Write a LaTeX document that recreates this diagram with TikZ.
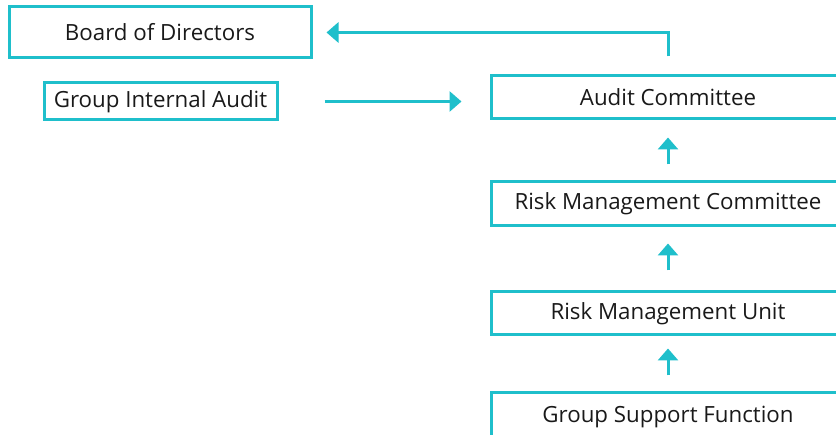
\documentclass[tikz,border=0pt]{standalone}
\usepackage{fontspec}
\setmainfont{Open Sans}
\usetikzlibrary{arrows.meta}
\definecolor{teal1}{HTML}{1FBFCB}
\tikzset{
  orgbox/.style={draw=teal1, line width=3pt, rectangle, inner sep=0pt, font=\fontsize{22.3}{26}\selectfont, text=black!90},
  link/.style={draw=teal1, line width=3pt, -{Triangle[width=20pt,length=12pt]}},
}
\begin{document}
\begin{tikzpicture}[x=1pt,y=-1pt]
\useasboundingbox (0,0) rectangle (836,435);
\clip (0,0) rectangle (836,435);
\node[orgbox, minimum width=302pt, minimum height=51pt] (bod) at (160,32.5) {Board of Directors};
\node[orgbox, minimum width=233pt, minimum height=37pt] (gia) at (160.5,101.5) {Group Internal Audit};
\node[orgbox, minimum width=354pt, minimum height=43pt] (ac) at (668,97.5) {Audit Committee};
\node[orgbox, minimum width=354pt, minimum height=44pt] (rmc) at (668,204) {Risk Management Committee};
\node[orgbox, minimum width=354pt, minimum height=43pt] (rmu) at (668,313.5) {Risk Management Unit};
\node[orgbox, minimum width=354pt, minimum height=48pt] (gsf) at (668,417) {Group Support Function};
\coordinate (acup) at ([yshift=18pt]ac.north);
\draw[link, shorten >=14pt] (acup) |- (bod.east);
\draw[link, shorten <=46pt, shorten >=28pt] (gia.east) -- (gia.east -| ac.west);
\draw[link, shorten <=16pt, shorten >=17pt] (rmc.north) -- (ac.south);
\draw[link, shorten <=20pt, shorten >=16pt] (rmu.north) -- (rmc.south);
\draw[link, shorten <=16pt, shorten >=12pt] (gsf.north) -- (rmu.south);
\end{tikzpicture}
\end{document}
